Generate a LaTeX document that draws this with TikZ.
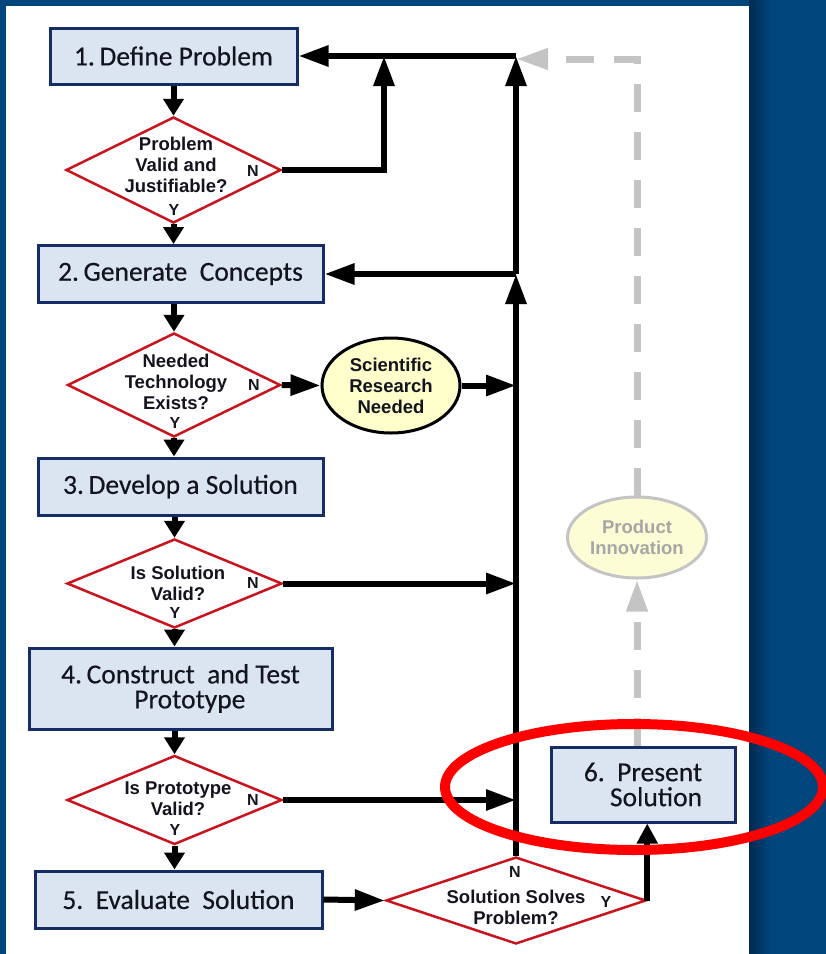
\documentclass[tikz,border=0pt]{standalone}
\usepackage{fontspec}
\setmainfont{Carlito}[FakeBold=0.35]
\newfontfamily\labelfont{Liberation Sans}
\usetikzlibrary{arrows.meta,shapes.geometric}

\definecolor{deepblue}{RGB}{0,69,124}
\definecolor{shadowblue}{RGB}{0,42,82}
\definecolor{boxfill}{RGB}{219,229,241}
\definecolor{boxline}{RGB}{22,44,100}
\definecolor{decline}{RGB}{200,20,30}
\definecolor{notefill}{RGB}{255,255,204}
\definecolor{fadefill}{RGB}{253,253,213}
\definecolor{fadeline}{RGB}{196,196,196}
\definecolor{fadetext}{RGB}{166,166,166}
\definecolor{ringred}{RGB}{255,0,0}
\definecolor{inktext}{RGB}{20,20,30}

\begin{document}
\begin{tikzpicture}[x=1pt,y=-1pt,
  stepbox/.style={draw=boxline,line width=3pt,fill=boxfill,inner sep=0pt,
    font=\fontsize{27.5}{25}\selectfont,text=inktext,align=center},
  decision/.style={diamond,draw=decline,line width=2.5pt,fill=white,inner sep=0pt},
  qtext/.style={font=\labelfont\bfseries\fontsize{18.5}{21}\selectfont,align=center,text=inktext},
  yn/.style={font=\labelfont\bfseries\fontsize{16}{18}\selectfont,text=inktext},
  research/.style={ellipse,draw=black,line width=3pt,fill=notefill,inner sep=0pt},
  faded/.style={ellipse,draw=fadeline,line width=3pt,fill=fadefill,inner sep=0pt,
    text=fadetext,font=\labelfont\bfseries\fontsize{18.5}{21}\selectfont,align=center},
  flow/.style={line width=6pt,-{Triangle[length=30pt,width=20pt]}},
  shortflow/.style={line width=6pt,-{Triangle[length=17pt,width=20pt]}},
  fadeflow/.style={line width=7pt,draw=fadeline,dash pattern=on 28pt off 20pt,
    -{Triangle[length=32pt,width=20pt,fill=fadeline]}},
]
\useasboundingbox (0,0) rectangle (826,954);

% page background and white sheet with its shadow
\fill[deepblue] (0,0) rectangle (826,954);
\shade[left color=shadowblue,right color=deepblue] (749,0) rectangle (770,954);
\fill[white] (6,6) rectangle (749,954);

% process steps
\node[stepbox,minimum width=247pt,minimum height=56pt] (b1) at (173.5,56) {1.\,Define Problem};
\node[stepbox,minimum width=285pt,minimum height=57pt] (b2) at (180.5,274) {2.\,Generate\ \ Concepts};
\node[stepbox,minimum width=285pt,minimum height=57pt] (b3) at (180.5,486.5) {3.\,Develop a Solution};
\node[stepbox,minimum width=303pt,minimum height=81pt] (b4) at (180.5,688.5) {4.\,Construct\ \ and Test\\\ \ \ Prototype};
\node[stepbox,minimum width=287pt,minimum height=57pt] (b5) at (178.5,899.5) {5.\ \ Evaluate\ \ Solution};
\node[stepbox,minimum width=184pt,minimum height=75pt,align=right] (b6) at (643,784.5) {6.\ \ Present\\Solution};

% decisions
\node[decision,minimum width=215pt,minimum height=106pt] (d1) at (173.5,170) {};
\node[decision,minimum width=213pt,minimum height=104pt] (d2) at (174,385) {};
\node[decision,minimum width=215pt,minimum height=89pt] (d3) at (174.5,583.5) {};
\node[decision,minimum width=215pt,minimum height=89pt] (d4) at (174.5,800) {};
\node[decision,minimum width=260pt,minimum height=87pt] (d6) at (516,900.5) {};

\node[qtext] (q1) at (176,165) {Problem\\Valid and\\Justifiable?};
\node[qtext] (q2) at (176,382) {Needed\\Technology\\Exists?};
\node[qtext] (q3) at (178,583) {Is Solution\\Valid?};
\node[qtext] (q4) at (178,799) {Is Prototype\\Valid?};
\node[qtext] (q6) at (516,907) {Solution\ Solves\\Problem?};

\node[yn] (n1) at (253,171) {N};
\node[yn] (y1) at (174,210) {Y};
\node[yn] (n2) at (254,385) {N};
\node[yn] (y2) at (175,423) {Y};
\node[yn] (n3) at (253,583) {N};
\node[yn] (y3) at (175,613) {Y};
\node[yn] (n4) at (253,800) {N};
\node[yn] (y4) at (175,830) {Y};
\node[yn] (n6) at (515,872) {N};
\node[yn] (y6) at (606,902) {Y};

% side outcomes
\node[research,minimum width=138pt,minimum height=95pt,qtext] (sr) at (391,385.5) {Scientific\\Research\\Needed};
\node[faded,minimum width=139pt,minimum height=81pt] (pi) at (637,537.5) {Product\\Innovation};

% junctions on the return spine
\coordinate (top) at (516,56);
\coordinate (mid) at (516,274);
\coordinate (ntop) at (384,56);
\coordinate (gtip) at (516,59);

% main sequence
\draw[shortflow] (d1.north |- b1.south) -- (d1.north);
\draw[shortflow] (d1.south) -- (d1.south |- b2.north);
\draw[shortflow] (d2.north |- b2.south) -- (d2.north);
\draw[shortflow] (d2.south) -- (d2.south |- b3.north);
\draw[shortflow] (d3.north |- b3.south) -- (d3.north);
\draw[shortflow] (d3.south) -- (d3.south |- b4.north);
\draw[shortflow] (d4.north |- b4.south) -- (d4.north);
\draw[shortflow] (d4.south) -- (d4.south |- b5.north);
\draw[flow] (b5.east) -- (d6.west);

% "no" branches back to the spine
\draw[flow] (d1.east) -| (ntop);
\draw[flow] (d2.east) -- (sr.west);
\draw[flow] (sr.east) -- (sr.east -| mid);
\draw[flow] (d3.east) -- (d3.east -| mid);
\draw[flow] (d4.east) -- (d4.east -| mid);

% return spine
\draw[flow] (d6.north) -- (mid);
\draw[flow] (mid) -- (top);
\draw[flow] (top) -- (b1.east);
\draw[flow] (mid) -- (b2.east);

% "yes" to presentation
\draw[line width=6pt,-{Triangle[length=20pt,width=20pt]}] (d6.east) -- (d6.east |- b6.south);

% faded innovation loop
\draw[fadeflow] (b6.north -| pi.south) -- (pi.south);
\draw[fadeflow] (pi.north) |- (gtip);

% highlight ring
\draw[ringred,line width=10pt] (634,787) ellipse [x radius=189pt,y radius=63pt];
\end{tikzpicture}
\end{document}
